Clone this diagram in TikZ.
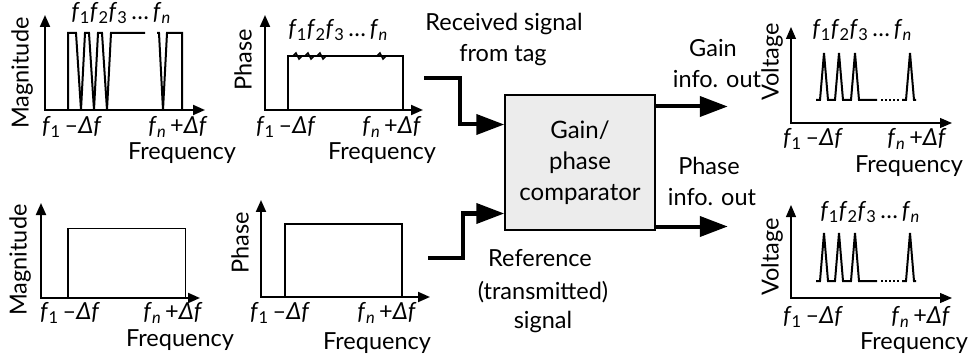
\documentclass[tikz,border=0pt]{standalone}
\usepackage{fontspec}
\setmainfont{Lato}
\usetikzlibrary{arrows.meta}
\usetikzlibrary{positioning}

\newcommand{\fsub}[1]{\textit{f}\textsubscript{#1}}
\newcommand{\flist}{\fsub{1}\fsub{2}\fsub{3}\,\dots\,\fsub{\textit{n}}}
\newcommand{\flow}{\fsub{1}\,--\textit{Δf}}
\newcommand{\fhigh}{\fsub{\textit{n}}\,+\textit{Δf}}

\begin{document}
\begin{tikzpicture}[x=1pt,y=-1pt,
  axes/.style={line width=2pt,{Triangle[length=12pt,width=10pt]}-{Triangle[length=12pt,width=10pt]}},
  thinaxes/.style={axes,line width=1.2pt},
  sig/.style={line width=2pt,line join=miter},
  flow/.style={line width=4pt,line join=miter,-{Triangle[length=28pt,width=20pt]}},
  lbl/.style={inner sep=0pt,font=\fontsize{23.5}{27}\selectfont},
  ylbl/.style={lbl,rotate=90}
]
\useasboundingbox (0,0) rectangle (974,358);

% received signal: magnitude
\draw[axes] (45,15) -- (45,110) -- (205,110);
\draw[sig] (68,110) -- (68,33) -- (76,33) -- (81,110) -- (85,33) -- (89,33) -- (94,110) -- (98,33)
  -- (102,33) -- (107,110) -- (111,33) -- (145,33);
\draw[sig] (157,33) -- (159,33) -- (163,110) -- (167,33) -- (182,33) -- (182,110);
\node[ylbl] (rmag) at (22,73) {Magnitude};
\node[lbl] (rmagf) at (121,13) {\flist};
\node[lbl] (rmaglo) at (72,127) {\flow};
\node[lbl] (rmaghi) at (178,127) {\fhigh};
\node[lbl] (rmagx) at (182,153) {Frequency};

% received signal: phase
\draw[axes] (265,15) -- (265,110) -- (423,110);
\draw[sig] (288,110) -- (288,56) -- (403,56) -- (403,110);
\foreach \x in {296,308,320,380}
  \draw[line width=1.5pt] (\x-3,56) -- (\x,53) -- (\x+3,59) -- (\x+6,56);
\node[ylbl] (rph) at (243,60) {Phase};
\node[lbl] (rphf) at (338,30) {\flist};
\node[lbl] (rphlo) at (286,127) {\flow};
\node[lbl] (rphhi) at (392,127) {\fhigh};
\node[lbl] (rphx) at (382,153) {Frequency};

% reference: magnitude
\draw[axes] (41,203) -- (41,298) -- (200,298);
\draw[sig] (68,298) -- (68,228);
\draw[line width=1pt] (68,228) -- (185,228) -- (185,298);
\node[ylbl] (tmag) at (20,260) {Magnitude};
\node[lbl] (tmaglo) at (70,313) {\flow};
\node[lbl] (tmaghi) at (173,313) {\fhigh};
\node[lbl] (tmagx) at (180,340) {Frequency};

% reference: phase
\draw[axes] (261,200) -- (261,297) -- (430,297);
\draw[sig] (285,297) -- (285,224) -- (402,224) -- (402,297);
\node[ylbl] (tph) at (240,243) {Phase};
\node[lbl] (tphlo) at (280,313) {\flow};
\node[lbl] (tphhi) at (387,313) {\fhigh};
\node[lbl] (tphx) at (377,343) {Frequency};

% comparator
\node[draw,fill=gray!15,line width=1.5pt,minimum width=150pt,minimum height=135pt,
  align=center,font=\fontsize{24}{31}\selectfont] (cmp) at (580,162.5) {Gain/\\phase\\comparator};

\coordinate (rx) at (424,78);
\coordinate (tx) at (428,258);
\draw[flow] (rx) -- ++(36,0) |- ([yshift=38pt]cmp.west);
\draw[flow] (tx) -- ++(35,0) |- ([yshift=-51pt]cmp.west);
\draw[flow] ([yshift=56pt]cmp.east) -- ++(72,0) coordinate (gout);
\draw[flow] ([yshift=-64pt]cmp.east) -- ++(72,0) coordinate (pout);

\node[lbl] (rxa) at (504,24) {Received signal};
\node[lbl] (rxb) at (503,55) {from tag};
\node[lbl] (txa) at (540,258) {Reference};
\node[lbl] (txb) at (543,292) {(transmitted)};
\node[lbl] (txc) at (543,322) {signal};
\node[lbl] (gouta) at (713,48) {Gain};
\node[lbl] (goutb) at (717,79) {info. out};
\node[lbl] (pouta) at (709,166) {Phase};
\node[lbl] (poutb) at (712,197) {info. out};

% gain output
\draw[thinaxes] (791,27) -- (791,123) -- (952,123);
\draw[sig] (816,100) -- (820,100) -- (824,53) -- (828,100) -- (835,100) -- (839,53) -- (843,100)
  -- (851,100) -- (855,53) -- (859,100) -- (877,100);
\draw[sig,dotted] (881,100) -- (899,100);
\draw[sig] (902,100) -- (906,100) -- (910,53) -- (914,100) -- (916,100);
\node[ylbl] (gv) at (772,62) {Voltage};
\node[lbl] (gvf) at (862,30) {\flist};
\node[lbl] (gvlo) at (813,139) {\flow};
\node[lbl] (gvhi) at (917,139) {\fhigh};
\node[lbl] (gvx) at (909,166) {Frequency};

% phase output
\draw[thinaxes] (791,205) -- (791,298) -- (952,298);
\draw[sig] (816,281) -- (820,281) -- (824,233) -- (828,281) -- (835,281) -- (839,233) -- (843,281)
  -- (851,281) -- (855,233) -- (859,281) -- (877,281);
\draw[sig,dotted] (881,281) -- (899,281);
\draw[sig] (902,281) -- (906,281) -- (910,233) -- (914,281) -- (916,281);
\node[ylbl] (pv) at (772,257) {Voltage};
\node[lbl] (pvf) at (870,212) {\flist};
\node[lbl] (pvlo) at (813,317) {\flow};
\node[lbl] (pvhi) at (921,317) {\fhigh};
\node[lbl] (pvx) at (914,343) {Frequency};
\end{tikzpicture}
\end{document}
